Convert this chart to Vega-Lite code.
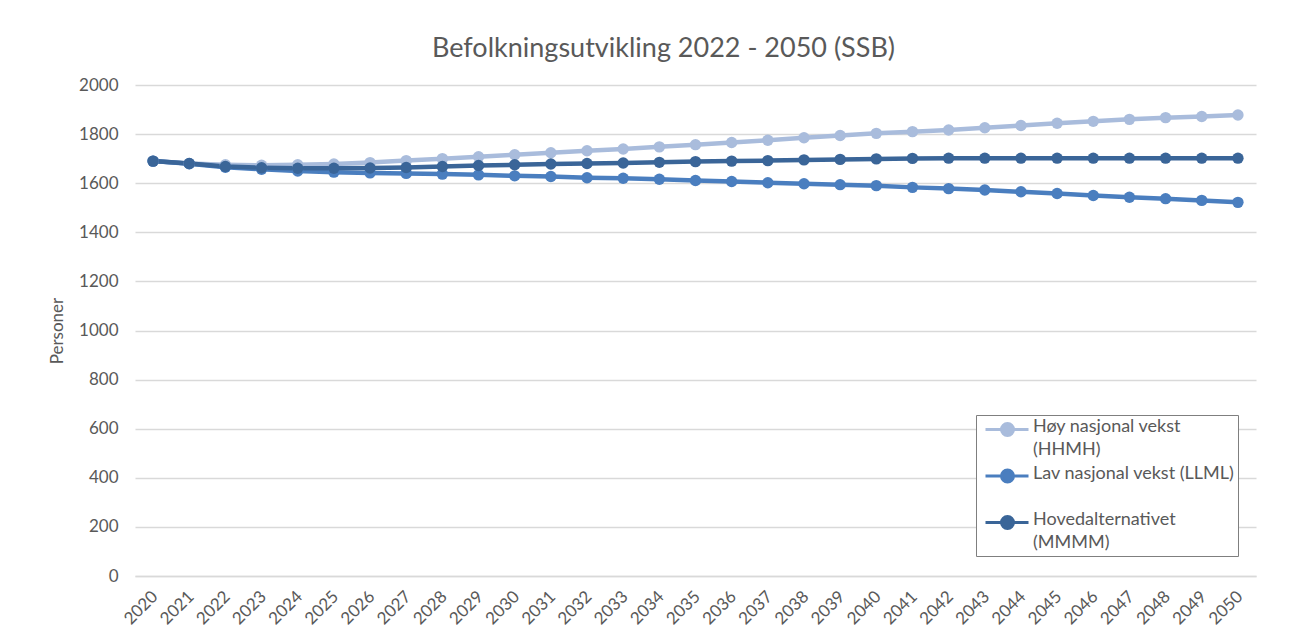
{
  "$schema": "https://vega.github.io/schema/vega-lite/v6.json",
  "width": 1121,
  "height": 491,
  "autosize": {"type": "none"},
  "padding": {"left": 135, "top": 85, "right": 60, "bottom": 57},
  "background": "white",
  "title": {
    "text": "Befolkningsutvikling 2022 - 2050 (SSB)",
    "font": "Lato",
    "fontSize": 27,
    "fontWeight": "normal",
    "color": "#595959",
    "anchor": "middle",
    "baseline": "alphabetic",
    "offset": -8,
    "dx": -32
  },
  "datasets": {
    "pop": [
      {"year": "2020", "serie": "Høy nasjonal vekst (HHMH)", "value": 1690},
      {"year": "2021", "serie": "Høy nasjonal vekst (HHMH)", "value": 1680},
      {"year": "2022", "serie": "Høy nasjonal vekst (HHMH)", "value": 1675},
      {"year": "2023", "serie": "Høy nasjonal vekst (HHMH)", "value": 1673},
      {"year": "2024", "serie": "Høy nasjonal vekst (HHMH)", "value": 1675},
      {"year": "2025", "serie": "Høy nasjonal vekst (HHMH)", "value": 1678},
      {"year": "2026", "serie": "Høy nasjonal vekst (HHMH)", "value": 1684},
      {"year": "2027", "serie": "Høy nasjonal vekst (HHMH)", "value": 1692},
      {"year": "2028", "serie": "Høy nasjonal vekst (HHMH)", "value": 1700},
      {"year": "2029", "serie": "Høy nasjonal vekst (HHMH)", "value": 1708},
      {"year": "2030", "serie": "Høy nasjonal vekst (HHMH)", "value": 1716},
      {"year": "2031", "serie": "Høy nasjonal vekst (HHMH)", "value": 1724},
      {"year": "2032", "serie": "Høy nasjonal vekst (HHMH)", "value": 1732},
      {"year": "2033", "serie": "Høy nasjonal vekst (HHMH)", "value": 1739},
      {"year": "2034", "serie": "Høy nasjonal vekst (HHMH)", "value": 1748},
      {"year": "2035", "serie": "Høy nasjonal vekst (HHMH)", "value": 1757},
      {"year": "2036", "serie": "Høy nasjonal vekst (HHMH)", "value": 1766},
      {"year": "2037", "serie": "Høy nasjonal vekst (HHMH)", "value": 1775},
      {"year": "2038", "serie": "Høy nasjonal vekst (HHMH)", "value": 1785},
      {"year": "2039", "serie": "Høy nasjonal vekst (HHMH)", "value": 1794},
      {"year": "2040", "serie": "Høy nasjonal vekst (HHMH)", "value": 1803},
      {"year": "2041", "serie": "Høy nasjonal vekst (HHMH)", "value": 1810},
      {"year": "2042", "serie": "Høy nasjonal vekst (HHMH)", "value": 1817},
      {"year": "2043", "serie": "Høy nasjonal vekst (HHMH)", "value": 1826},
      {"year": "2044", "serie": "Høy nasjonal vekst (HHMH)", "value": 1835},
      {"year": "2045", "serie": "Høy nasjonal vekst (HHMH)", "value": 1844},
      {"year": "2046", "serie": "Høy nasjonal vekst (HHMH)", "value": 1852},
      {"year": "2047", "serie": "Høy nasjonal vekst (HHMH)", "value": 1860},
      {"year": "2048", "serie": "Høy nasjonal vekst (HHMH)", "value": 1867},
      {"year": "2049", "serie": "Høy nasjonal vekst (HHMH)", "value": 1872},
      {"year": "2050", "serie": "Høy nasjonal vekst (HHMH)", "value": 1878},
      {"year": "2020", "serie": "Lav nasjonal vekst (LLML)", "value": 1690},
      {"year": "2021", "serie": "Lav nasjonal vekst (LLML)", "value": 1679},
      {"year": "2022", "serie": "Lav nasjonal vekst (LLML)", "value": 1665},
      {"year": "2023", "serie": "Lav nasjonal vekst (LLML)", "value": 1657},
      {"year": "2024", "serie": "Lav nasjonal vekst (LLML)", "value": 1650},
      {"year": "2025", "serie": "Lav nasjonal vekst (LLML)", "value": 1645},
      {"year": "2026", "serie": "Lav nasjonal vekst (LLML)", "value": 1642},
      {"year": "2027", "serie": "Lav nasjonal vekst (LLML)", "value": 1640},
      {"year": "2028", "serie": "Lav nasjonal vekst (LLML)", "value": 1637},
      {"year": "2029", "serie": "Lav nasjonal vekst (LLML)", "value": 1634},
      {"year": "2030", "serie": "Lav nasjonal vekst (LLML)", "value": 1630},
      {"year": "2031", "serie": "Lav nasjonal vekst (LLML)", "value": 1627},
      {"year": "2032", "serie": "Lav nasjonal vekst (LLML)", "value": 1622},
      {"year": "2033", "serie": "Lav nasjonal vekst (LLML)", "value": 1620},
      {"year": "2034", "serie": "Lav nasjonal vekst (LLML)", "value": 1616},
      {"year": "2035", "serie": "Lav nasjonal vekst (LLML)", "value": 1611},
      {"year": "2036", "serie": "Lav nasjonal vekst (LLML)", "value": 1607},
      {"year": "2037", "serie": "Lav nasjonal vekst (LLML)", "value": 1602},
      {"year": "2038", "serie": "Lav nasjonal vekst (LLML)", "value": 1598},
      {"year": "2039", "serie": "Lav nasjonal vekst (LLML)", "value": 1594},
      {"year": "2040", "serie": "Lav nasjonal vekst (LLML)", "value": 1590},
      {"year": "2041", "serie": "Lav nasjonal vekst (LLML)", "value": 1583},
      {"year": "2042", "serie": "Lav nasjonal vekst (LLML)", "value": 1578},
      {"year": "2043", "serie": "Lav nasjonal vekst (LLML)", "value": 1572},
      {"year": "2044", "serie": "Lav nasjonal vekst (LLML)", "value": 1565},
      {"year": "2045", "serie": "Lav nasjonal vekst (LLML)", "value": 1558},
      {"year": "2046", "serie": "Lav nasjonal vekst (LLML)", "value": 1550},
      {"year": "2047", "serie": "Lav nasjonal vekst (LLML)", "value": 1543},
      {"year": "2048", "serie": "Lav nasjonal vekst (LLML)", "value": 1537},
      {"year": "2049", "serie": "Lav nasjonal vekst (LLML)", "value": 1530},
      {"year": "2050", "serie": "Lav nasjonal vekst (LLML)", "value": 1522},
      {"year": "2020", "serie": "Hovedalternativet (MMMM)", "value": 1690},
      {"year": "2021", "serie": "Hovedalternativet (MMMM)", "value": 1680},
      {"year": "2022", "serie": "Hovedalternativet (MMMM)", "value": 1668},
      {"year": "2023", "serie": "Hovedalternativet (MMMM)", "value": 1663},
      {"year": "2024", "serie": "Hovedalternativet (MMMM)", "value": 1661},
      {"year": "2025", "serie": "Hovedalternativet (MMMM)", "value": 1661},
      {"year": "2026", "serie": "Hovedalternativet (MMMM)", "value": 1662},
      {"year": "2027", "serie": "Hovedalternativet (MMMM)", "value": 1664},
      {"year": "2028", "serie": "Hovedalternativet (MMMM)", "value": 1668},
      {"year": "2029", "serie": "Hovedalternativet (MMMM)", "value": 1672},
      {"year": "2030", "serie": "Hovedalternativet (MMMM)", "value": 1675},
      {"year": "2031", "serie": "Hovedalternativet (MMMM)", "value": 1678},
      {"year": "2032", "serie": "Hovedalternativet (MMMM)", "value": 1680},
      {"year": "2033", "serie": "Hovedalternativet (MMMM)", "value": 1682},
      {"year": "2034", "serie": "Hovedalternativet (MMMM)", "value": 1685},
      {"year": "2035", "serie": "Hovedalternativet (MMMM)", "value": 1688},
      {"year": "2036", "serie": "Hovedalternativet (MMMM)", "value": 1690},
      {"year": "2037", "serie": "Hovedalternativet (MMMM)", "value": 1692},
      {"year": "2038", "serie": "Hovedalternativet (MMMM)", "value": 1695},
      {"year": "2039", "serie": "Hovedalternativet (MMMM)", "value": 1697},
      {"year": "2040", "serie": "Hovedalternativet (MMMM)", "value": 1699},
      {"year": "2041", "serie": "Hovedalternativet (MMMM)", "value": 1701},
      {"year": "2042", "serie": "Hovedalternativet (MMMM)", "value": 1702},
      {"year": "2043", "serie": "Hovedalternativet (MMMM)", "value": 1702},
      {"year": "2044", "serie": "Hovedalternativet (MMMM)", "value": 1702},
      {"year": "2045", "serie": "Hovedalternativet (MMMM)", "value": 1702},
      {"year": "2046", "serie": "Hovedalternativet (MMMM)", "value": 1702},
      {"year": "2047", "serie": "Hovedalternativet (MMMM)", "value": 1702},
      {"year": "2048", "serie": "Hovedalternativet (MMMM)", "value": 1702},
      {"year": "2049", "serie": "Hovedalternativet (MMMM)", "value": 1702},
      {"year": "2050", "serie": "Hovedalternativet (MMMM)", "value": 1702}
    ]
  },
  "data": {"name": "pop"},
  "mark": {
    "type": "line",
    "strokeWidth": 4.5,
    "point": {"filled": true, "size": 130, "opacity": 1}
  },
  "encoding": {
    "x": {
      "field": "year",
      "type": "ordinal",
      "scale": {"type": "point", "padding": 0.5},
      "axis": {
        "title": null,
        "labelAngle": -45,
        "labelFont": "Lato",
        "labelFontSize": 17,
        "labelColor": "#595959",
        "ticks": false,
        "labelPadding": 12,
        "labelOffset": -4,
        "domain": true,
        "domainColor": "#D9D9D9",
        "domainWidth": 1.5,
        "grid": false
      }
    },
    "y": {
      "field": "value",
      "type": "quantitative",
      "scale": {"domain": [0, 2000], "nice": false, "zero": true},
      "axis": {
        "title": "Personer",
        "titleFont": "Lato",
        "titleFontSize": 17,
        "titleFontWeight": "normal",
        "titleColor": "#595959",
        "titlePadding": 12,
        "format": "d",
        "values": [0, 200, 400, 600, 800, 1000, 1200, 1400, 1600, 1800, 2000],
        "labelFont": "Lato",
        "labelFontSize": 17,
        "labelColor": "#595959",
        "labelPadding": 17,
        "ticks": false,
        "domain": false,
        "grid": true,
        "gridColor": "#D9D9D9",
        "gridWidth": 1.5
      }
    },
    "color": {
      "field": "serie",
      "type": "nominal",
      "sort": ["Høy nasjonal vekst (HHMH)", "Lav nasjonal vekst (LLML)", "Hovedalternativet (MMMM)"],
      "scale": {
        "domain": ["Høy nasjonal vekst (HHMH)", "Lav nasjonal vekst (LLML)", "Hovedalternativet (MMMM)"],
        "range": ["#A9BCDC", "#4A7EBF", "#3A6598"]
      },
      "legend": {
        "title": null,
        "orient": "none",
        "legendX": 841,
        "legendY": 330,
        "padding": 3,
        "strokeColor": "#7F7F7F",
        "fillColor": "white",
        "labelFont": "Lato",
        "labelFontSize": 18,
        "labelColor": "#595959",
        "labelLimit": 400,
        "labelOffset": 31,
        "labelBaseline": "top",
        "rowPadding": 3.5,
        "symbolType": "M-0.5,0H3.8M2.3,0A0.6,0.6 0 1 1 1.1,0A0.6,0.6 0 1 1 2.3,0Z",
        "symbolSize": 400,
        "symbolStrokeWidth": 3,
        "labelExpr": "datum.label == 'Høy nasjonal vekst (HHMH)' ? ['Høy nasjonal vekst', '(HHMH)'] : datum.label == 'Lav nasjonal vekst (LLML)' ? ['Lav nasjonal vekst (LLML)\u00a0\u00a0', ''] : ['Hovedalternativet', '(MMMM)']",
        "encode": {
          "symbols": {"update": {"fill": {"field": "value", "scale": "color"}, "stroke": {"field": "value", "scale": "color"}, "opacity": {"value": 1}}},
          "labels": {"update": {"lineHeight": {"value": 23.3}, "dy": {"value": -11.5}}}
        }
      }
    }
  },
  "config": {
    "view": {"stroke": null},
    "font": "Lato"
  }
}
